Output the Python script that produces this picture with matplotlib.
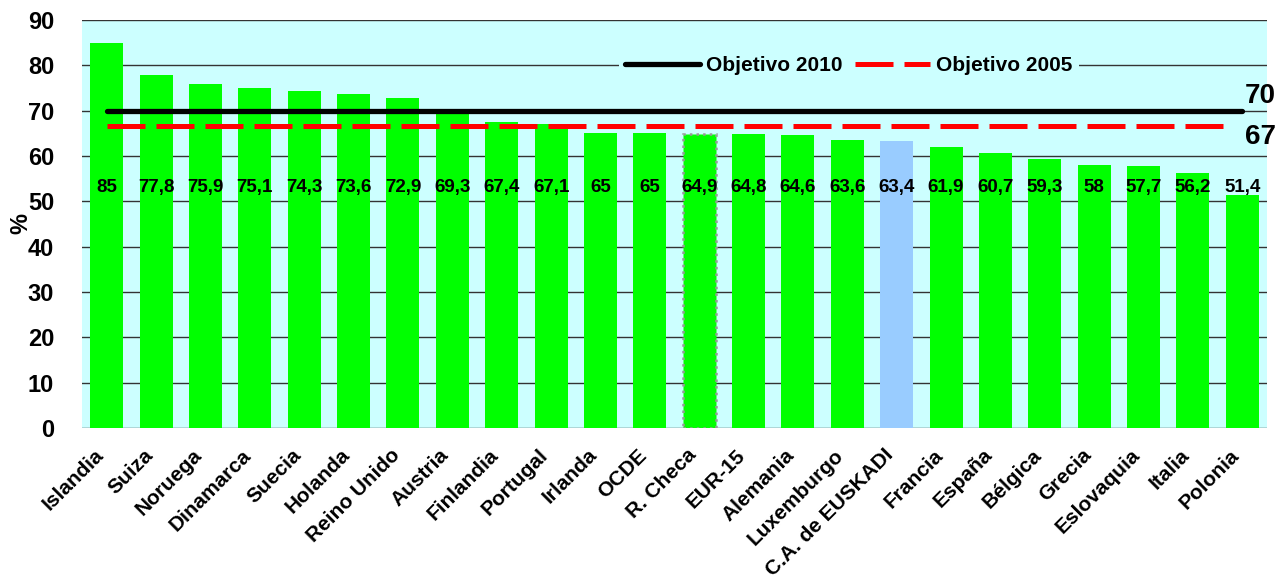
import matplotlib
matplotlib.use("Agg")
import matplotlib.pyplot as plt
from matplotlib.lines import Line2D
from matplotlib.transforms import ScaledTranslation

categories = ["Islandia", "Suiza", "Noruega", "Dinamarca", "Suecia", "Holanda",
              "Reino Unido", "Austria", "Finlandia", "Portugal", "Irlanda", "OCDE",
              "R. Checa", "EUR-15", "Alemania", "Luxemburgo", "C.A. de EUSKADI",
              "Francia", "España", "Bélgica", "Grecia", "Eslovaquia", "Italia", "Polonia"]
values = [85, 77.8, 75.9, 75.1, 74.3, 73.6, 72.9, 69.3, 67.4, 67.1, 65, 65,
          64.9, 64.8, 64.6, 63.6, 63.4, 61.9, 60.7, 59.3, 58, 57.7, 56.2, 51.4]
objetivo_2010 = 70
objetivo_2005 = 66.6
yticks = list(range(0, 91, 10))

plt.rcParams['font.family'] = ['Liberation Sans', 'DejaVu Sans']
plt.rcParams['font.weight'] = 'bold'

fig = plt.figure(figsize=(12.84, 5.83), dpi=100)
ax = fig.add_axes([82/1284, 1 - 428/583, (1267-82)/1284, (428-20)/583])
ax.set_facecolor('#CCFFFF')

x = list(range(len(categories)))
colors = ['#99CCFF' if c == "C.A. de EUSKADI" else '#00FF00' for c in categories]
bars = ax.bar(x, values, width=0.67, color=colors, zorder=2, linewidth=0)
idx = categories.index("R. Checa")
bars[idx].set_edgecolor('#999999')
bars[idx].set_linewidth(1.8)
bars[idx].set_linestyle(':')

for xi, v in zip(x, values):
    ax.text(xi, 53, f"{v:g}".replace('.', ','), ha='center', va='center',
            fontsize=13.5, fontweight='bold', zorder=4)

ax.plot([0, len(x)-1], [objetivo_2010]*2, color='black', lw=3.8,
        solid_capstyle='round', zorder=3)
ax.plot([0, len(x)-1.3], [objetivo_2005]*2, color='#FF0000', lw=3.6,
        linestyle=(0, (7.6, 2.2)), zorder=3)

ax.text(23.05, 73.3, "70", fontsize=20, fontweight='bold', ha='left', va='center',
        clip_on=False)
ax.text(23.05, 64.3, "67", fontsize=20, fontweight='bold', ha='left', va='center',
        clip_on=False)

ax.set_xlim(-0.5, len(x) - 0.5)
ax.set_ylim(0, 90)
ax.set_yticks(yticks)
ax.yaxis.grid(True, color='#333333', lw=1.0, zorder=1)
ax.set_axisbelow(True)
for s in ax.spines.values():
    s.set_visible(False)
ax.tick_params(axis='both', length=0)
ax.tick_params(axis='y', labelsize=17, pad=20)
ax.set_yticklabels([str(t) for t in yticks], fontweight='bold')
ax.set_xticks(x)
ax.set_xticklabels(categories, rotation=45, ha='right', rotation_mode='anchor',
                   fontsize=15, fontweight='bold')
ax.tick_params(axis='x', pad=9)
offset = ScaledTranslation(-13/100, -5/100, fig.dpi_scale_trans)
for lbl in ax.get_xticklabels():
    lbl.set_transform(lbl.get_transform() + offset)
ax.set_ylabel('%', fontsize=17, fontweight='bold', labelpad=-3)

handles = [Line2D([], [], color='black', lw=3.8, solid_capstyle='round'),
           Line2D([], [], color='#FF0000', lw=3.6, linestyle=(0, (7.6, 2.2)))]
leg = ax.legend(handles, ["Objetivo 2010", "Objetivo 2005"], ncol=2,
                loc='center', bbox_to_anchor=(0.647, 80/90), frameon=True,
                facecolor='#CCFFFF', edgecolor='none', framealpha=1,
                prop={'weight': 'bold', 'size': 15}, handlelength=3.6,
                columnspacing=0.6, handletextpad=0.3, borderpad=0.3)
leg.set_zorder(5)

fig.savefig('out.png', dpi=100)
